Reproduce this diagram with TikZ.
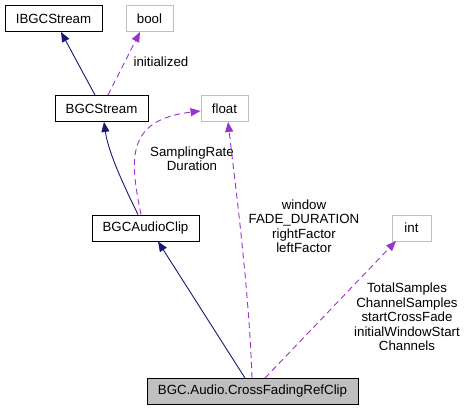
\documentclass[tikz,border=0pt]{standalone}
\usepackage{fontspec}
\setmainfont{Liberation Sans}
\usetikzlibrary{arrows.meta}
\definecolor{navy}{HTML}{191970}
\definecolor{orchid}{HTML}{9A32CD}
\definecolor{lgray}{HTML}{BFBFBF}
\begin{document}
\begin{tikzpicture}[x=1pt,y=-1pt,
  every node/.style={font=\fontsize{13.3}{14.5}\selectfont, inner sep=0pt},
  cls/.style={draw=black, line width=0.9pt, minimum height=26pt, fill=white},
  prim/.style={draw=lgray, line width=0.9pt, minimum height=26pt, fill=white},
  cur/.style={draw=black, line width=0.9pt, minimum height=26pt, fill=lgray},
  inh/.style={draw=navy, line width=0.9pt, -{Triangle[length=10pt,width=8pt]}},
  use/.style={draw=orchid, line width=0.9pt, dash pattern=on 6pt off 4pt, -{Triangle[length=10pt,width=8pt]}},
  lbl/.style={align=center, text=black}]
\useasboundingbox (0,0) rectangle (466,411);
\node[cls, minimum width=97pt] (ibgc) at (53.5,18.5) {IBGCStream};
\node[prim, minimum width=47pt] (bool) at (149.5,18.5) {bool};
\node[cls, minimum width=93pt] (bgcs) at (101.5,108.5) {BGCStream};
\node[prim, minimum width=47pt] (float) at (224.5,108.5) {float};
\node[cls, minimum width=107pt] (clip) at (145.5,228) {BGCAudioClip};
\node[prim, minimum width=39pt] (int) at (411.5,228) {int};
\node[cur, minimum width=211pt] (cf) at (252.5,391.5) {BGC.Audio.CrossFadingRefClip};
% edges
\draw[inh] (bgcs.north -| 95,0) -- (ibgc.south -| 61,0);
\draw[use] (bgcs.north -| 108,0) -- (bool.south -| 140,0);
\node[lbl] (linit) at (161,62) {initialized};
\draw[inh] (clip.north -| 138,0) .. controls (120,178) and (108,150) .. (bgcs.south -| 104,0);
\draw[use] (clip.north -| 141,0) .. controls (130,160) and (125,120) .. (float.west |- 0,111);
\node[lbl] (lsr) at (192,158.5) {SamplingRate\\Duration};
\draw[inh] (cf.north -| 245,0) -- (clip.south -| 158,0);
\draw[use] (cf.north -| 252,0) .. controls (249,290) and (236,190) .. (float.south -| 228,0);
\node[lbl] (lwin) at (304,226) {window\\FADE\_DURATION\\rightFactor\\leftFactor};
\draw[use] (cf.north -| 265,0) -- (396,241);
\node[lbl] (lint) at (407,317) {TotalSamples\\ChannelSamples\\startCrossFade\\initialWindowStart\\Channels};
\end{tikzpicture}
\end{document}
